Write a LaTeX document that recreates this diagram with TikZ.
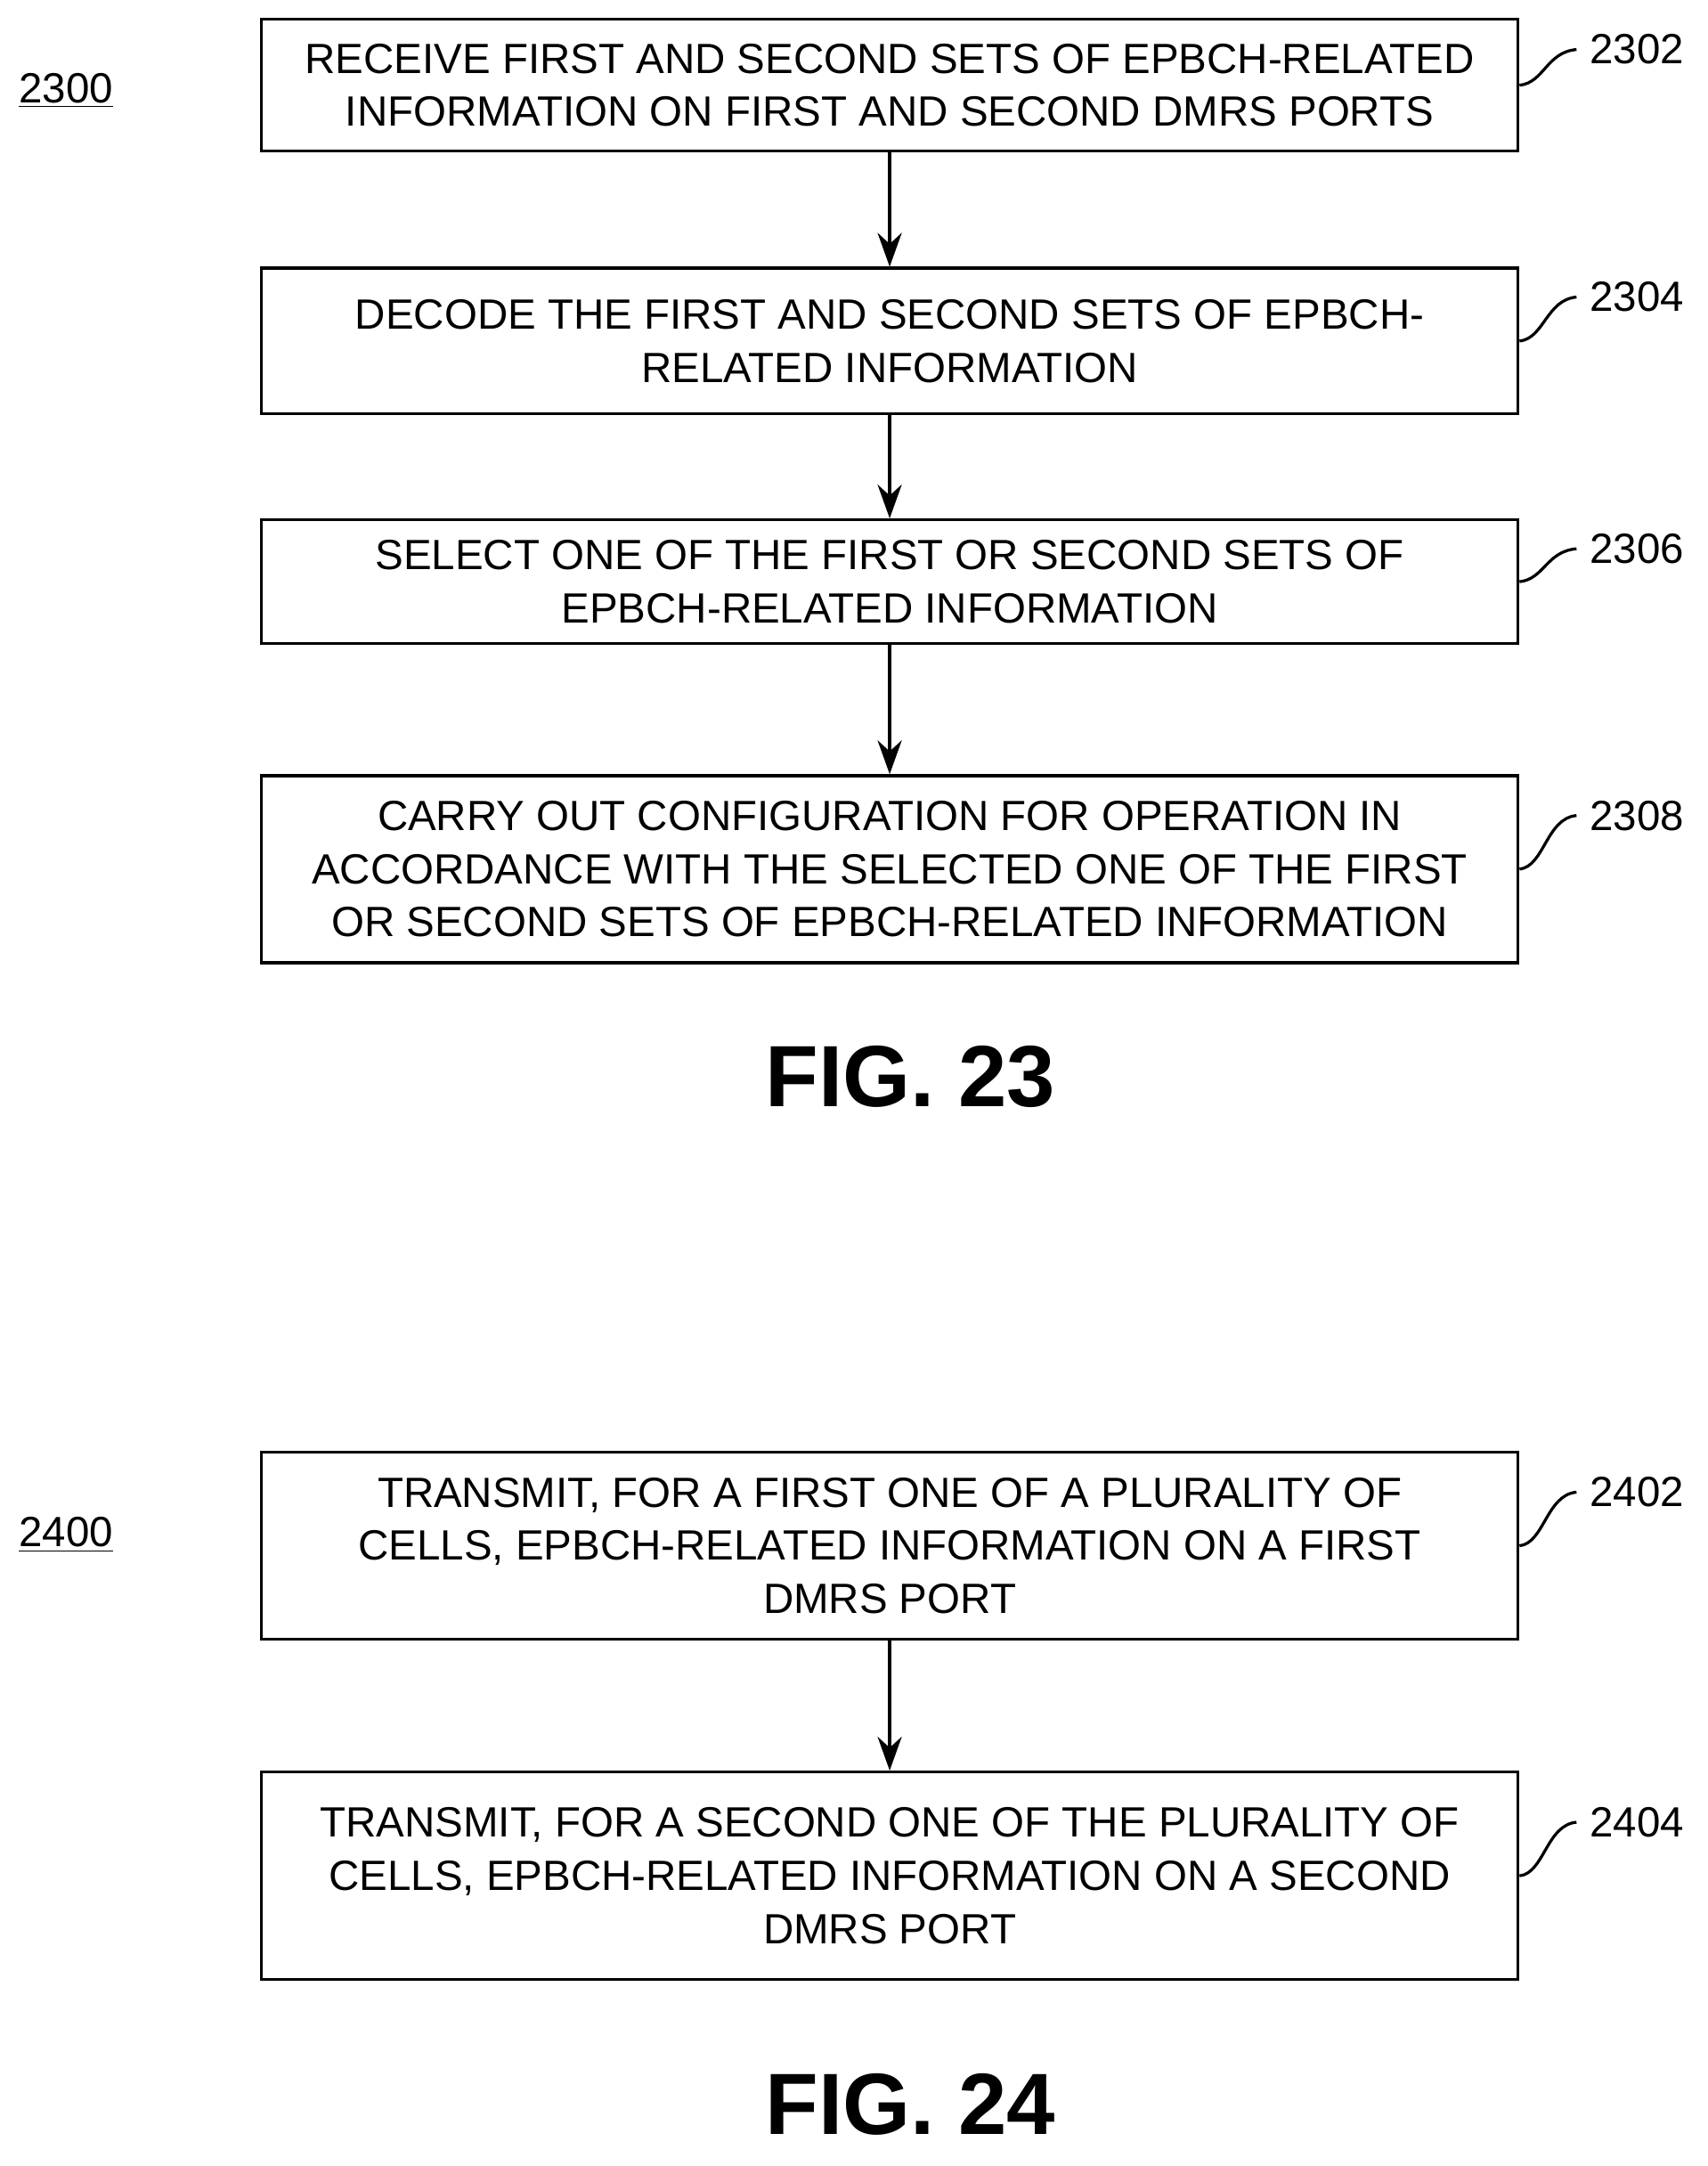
\documentclass[tikz,border=0pt]{standalone}
\usepackage{fontspec}
\setmainfont{Liberation Sans}
\usetikzlibrary{arrows.meta}
\begin{document}
\begin{tikzpicture}[x=0.02cm,y=-0.02cm,>={Stealth[length=14pt,width=10pt]},
  flowbox/.style={draw,line width=1.2pt,minimum width=914*0.02cm,align=center,
    font=\fontsize{17.5}{22}\selectfont,inner sep=0pt},
  refno/.style={font=\fontsize{17.5}{22}\selectfont,anchor=west},
  leader/.style={line width=1.2pt},
  flow/.style={->,line width=1.2pt},
  fig/.style={font=\fontsize{36}{40}\selectfont\bfseries}]
  \useasboundingbox (0,0) rectangle (1242,1575);

  \node (n2300) at (48,66) {\fontsize{17.5}{22}\selectfont\underline{2300}};
  \node[flowbox,minimum height=96*0.02cm]  (s2302) at (647,62)  {RECEIVE FIRST AND SECOND SETS OF EPBCH-RELATED\\INFORMATION ON FIRST AND SECOND DMRS PORTS};
  \node[flowbox,minimum height=106*0.02cm] (s2304) at (647,248) {DECODE THE FIRST AND SECOND SETS OF EPBCH-\\RELATED INFORMATION};
  \node[flowbox,minimum height=90*0.02cm]  (s2306) at (647,423) {SELECT ONE OF THE FIRST OR SECOND SETS OF\\EPBCH-RELATED INFORMATION};
  \node[flowbox,minimum height=136*0.02cm] (s2308) at (647,632) {CARRY OUT CONFIGURATION FOR OPERATION IN\\ACCORDANCE WITH THE SELECTED ONE OF THE FIRST\\OR SECOND SETS OF EPBCH-RELATED INFORMATION};
  \node[fig] (f23) at (662,783) {FIG. 23};

  \node[refno] (r2302) at (1150,36)  {2302};
  \node[refno] (r2304) at (1150,216) {2304};
  \node[refno] (r2306) at (1150,399) {2306};
  \node[refno] (r2308) at (1150,593) {2308};

  \draw[flow] (s2302) -- (s2304);
  \draw[flow] (s2304) -- (s2306);
  \draw[flow] (s2306) -- (s2308);

  \node (n2400) at (48,1116) {\fontsize{17.5}{22}\selectfont\underline{2400}};
  \node[flowbox,minimum height=136*0.02cm] (s2402) at (647,1124) {TRANSMIT, FOR A FIRST ONE OF A PLURALITY OF\\CELLS, EPBCH-RELATED INFORMATION ON A FIRST\\DMRS PORT};
  \node[flowbox,minimum height=151*0.02cm] (s2404) at (647,1364) {TRANSMIT, FOR A SECOND ONE OF THE PLURALITY OF\\CELLS, EPBCH-RELATED INFORMATION ON A SECOND\\DMRS PORT};
  \node[fig] (f24) at (662,1530) {FIG. 24};

  \node[refno] (r2402) at (1150,1085) {2402};
  \node[refno] (r2404) at (1150,1325) {2404};

  \draw[flow] (s2402) -- (s2404);

  % leaders to the reference numbers
  \foreach \s/\r in {s2302/r2302,s2304/r2304,s2306/r2306,s2308/r2308,s2402/r2402,s2404/r2404}
    \draw[leader] (\s.east) .. controls +(18,-2) and +(-22,2) .. ([xshift=-2pt]\r.west);
\end{tikzpicture}
\end{document}
